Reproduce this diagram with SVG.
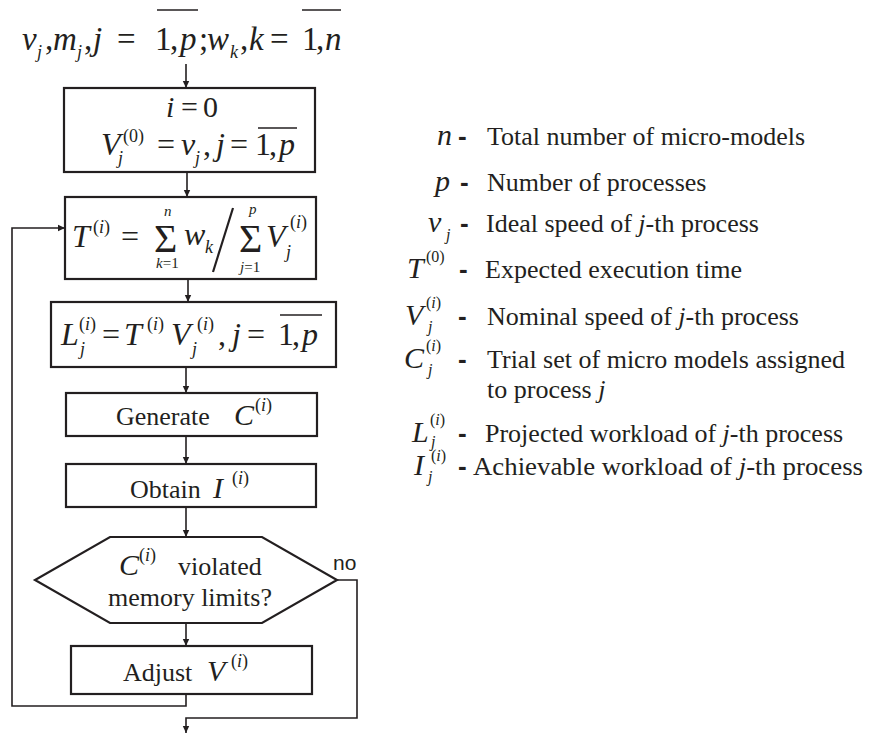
<svg xmlns="http://www.w3.org/2000/svg" width="869" height="733" viewBox="0 0 869 733">
<style>
text{font-family:"Liberation Serif","Times New Roman",serif;fill:#231f20}
.t{font-size:26px}
.i{font-style:italic}
.m{font-size:32px;font-style:italic}
.m33{font-size:33px;font-style:italic}
.u33{font-size:33px}
.m30{font-size:30px;font-style:italic}
.u32{font-size:32px}
.u30{font-size:30px}
.sp{font-size:18px}
.sb{font-size:18px;font-style:italic}
.lp{font-size:16px}
.lb{font-size:16px;font-style:italic}
.sm{font-size:15px}
.sig{font-size:40px}
.dash{font-family:"Liberation Sans",Arial,sans-serif;font-weight:bold;font-size:26px}
.no{font-family:"Liberation Sans",Arial,sans-serif;font-size:21px}
.box{fill:#fff;stroke:#231f20;stroke-width:2.2}
.ln{fill:none;stroke:#231f20;stroke-width:1.6}
.bar{stroke:#231f20;stroke-width:1.5}
</style>
<defs>
<marker id="ah" markerUnits="userSpaceOnUse" markerWidth="8" markerHeight="8" refX="7" refY="4" orient="auto">
<path d="M0,0.8 L7,4 L0,7.2 Z" fill="#231f20"/>
</marker>
</defs>

<g id="input">
<text y="50"><tspan class="m33" x="22">v</tspan><tspan class="sb" x="37" y="58">j</tspan><tspan class="u33" x="45" y="50">,</tspan><tspan class="m33" x="53">m</tspan><tspan class="sb" x="77" y="58">j</tspan><tspan class="u33" x="84" y="50">,</tspan><tspan class="m33" x="93">j</tspan><tspan class="u33" x="117">=</tspan><tspan class="u33" x="155">1</tspan><tspan class="u33" x="170">,</tspan><tspan class="m33" x="180">p</tspan><tspan class="u33" x="199">;</tspan><tspan class="m33" x="207">w</tspan><tspan class="sb" x="230" y="58">k</tspan><tspan class="u33" x="240" y="50">,</tspan><tspan class="m33" x="249">k</tspan><tspan class="u33" x="270">=</tspan><tspan class="u33" x="302">1</tspan><tspan class="u33" x="316">,</tspan><tspan class="m33" x="325">n</tspan></text>
<line class="bar" x1="157" y1="10" x2="198" y2="10"/>
<line class="bar" x1="302" y1="10" x2="341" y2="10"/>
</g>

<g id="init">
<rect class="box" x="64" y="88" width="251" height="84"/>
<text y="117"><tspan class="m30" x="166">i</tspan><tspan class="u30" x="181">=</tspan><tspan class="u30" x="203">0</tspan></text>
<text y="155"><tspan class="m" x="101">V</tspan><tspan class="sp" x="123" y="142">(0)</tspan><tspan class="sb" x="118" y="164">j</tspan><tspan class="u32" x="157" y="155">=</tspan><tspan class="m" x="181">v</tspan><tspan class="sb" x="195" y="164">j</tspan><tspan class="u32" x="203" y="155">,</tspan><tspan class="m" x="216">j</tspan><tspan class="u32" x="230">=</tspan><tspan class="u32" x="255">1</tspan><tspan class="u32" x="269">,</tspan><tspan class="m" x="279">p</tspan></text>
<line class="bar" x1="258" y1="128" x2="297" y2="128"/>
</g>

<g id="time">
<rect class="box" x="65" y="197" width="251" height="82"/>
<text y="247"><tspan class="m" x="72">T</tspan><tspan class="sp" x="93" y="233">(<tspan class="i">i</tspan>)</tspan><tspan class="u32" x="121" y="247">=</tspan></text>
<text class="sig" x="154" y="252">Σ</text>
<text class="sm i" x="164" y="216">n</text>
<text class="sm" x="156" y="268"><tspan class="i">k</tspan>=1</text>
<text y="245"><tspan class="m" x="184">w</tspan><tspan class="sb" x="205" y="253">k</tspan></text>
<line x1="213" y1="272" x2="233" y2="208" stroke="#231f20" stroke-width="2.2"/>
<text class="sig" x="239" y="252">Σ</text>
<text class="sm i" x="249" y="214">p</text>
<text class="sm" x="240" y="272"><tspan class="i">j</tspan>=1</text>
<text y="247"><tspan class="m" x="266">V</tspan><tspan class="sp" x="290" y="228">(<tspan class="i">i</tspan>)</tspan><tspan class="sb" x="286" y="258">j</tspan></text>
</g>

<g id="load">
<rect class="box" x="51" y="302" width="285" height="65"/>
<text y="345"><tspan class="m" x="61">L</tspan><tspan class="sp" x="79" y="330">(<tspan class="i">i</tspan>)</tspan><tspan class="sb" x="80" y="355">j</tspan><tspan class="u32" x="102" y="345">=</tspan><tspan class="m" x="124">T</tspan><tspan class="sp" x="147" y="330">(<tspan class="i">i</tspan>)</tspan><tspan class="m" x="171" y="345">V</tspan><tspan class="sp" x="197" y="330">(<tspan class="i">i</tspan>)</tspan><tspan class="sb" x="192" y="355">j</tspan><tspan class="u32" x="218" y="345">,</tspan><tspan class="m" x="232">j</tspan><tspan class="u32" x="247">=</tspan><tspan class="u32" x="278">1</tspan><tspan class="u32" x="292">,</tspan><tspan class="m" x="302">p</tspan></text>
<line class="bar" x1="280" y1="315" x2="322" y2="315"/>
</g>

<g id="generate">
<rect class="box" x="66" y="393" width="251" height="43"/>
<text y="425"><tspan class="t" x="116">Generate</tspan><tspan class="m30" x="234">C</tspan><tspan class="sp" x="255" y="411">(<tspan class="i">i</tspan>)</tspan></text>
</g>

<g id="obtain">
<rect class="box" x="66" y="464" width="250" height="43"/>
<text y="498"><tspan class="t" x="130">Obtain</tspan><tspan class="m30" x="213">I</tspan><tspan class="sp" x="232" y="484">(<tspan class="i">i</tspan>)</tspan></text>
</g>

<g id="check">
<polygon class="box" points="110,537 262,537 337,580 262,623 110,623 35,580"/>
<text y="575"><tspan class="m30" x="119">C</tspan><tspan class="sp" x="139" y="561">(<tspan class="i">i</tspan>)</tspan><tspan class="t" x="178" y="575">violated</tspan></text>
<text class="t" x="108" y="606">memory limits?</text>
</g>

<g id="adjust">
<rect class="box" x="71" y="646" width="241" height="48"/>
<text y="681"><tspan class="t" x="123">Adjust</tspan><tspan class="m30" x="207">V</tspan><tspan class="sp" x="231" y="667">(<tspan class="i">i</tspan>)</tspan></text>
</g>

<g id="connectors">
<line class="ln" x1="186" y1="64" x2="186" y2="88" marker-end="url(#ah)"/>
<line class="ln" x1="187" y1="172" x2="187" y2="197" marker-end="url(#ah)"/>
<line class="ln" x1="188" y1="279" x2="188" y2="302" marker-end="url(#ah)"/>
<line class="ln" x1="186" y1="367" x2="186" y2="393" marker-end="url(#ah)"/>
<line class="ln" x1="186" y1="436" x2="186" y2="464" marker-end="url(#ah)"/>
<line class="ln" x1="186" y1="507" x2="186" y2="537" marker-end="url(#ah)"/>
<line class="ln" x1="186" y1="623" x2="186" y2="646" marker-end="url(#ah)"/>
<polyline class="ln" points="186,694 186,706 12,706 12,228 65,228" marker-end="url(#ah)"/>
<polyline class="ln" points="337,580 357,580 357,718 186,718 186,733" marker-end="url(#ah)"/>
<text class="no" x="333" y="570">no</text>
</g>

<g id="legend">
<text class="m30" x="437" y="145">n</text><text class="dash" x="458" y="145">-</text><text class="t" x="487" y="145">Total number of micro-models</text>
<text class="m30" x="435" y="191">p</text><text class="dash" x="460" y="191">-</text><text class="t" x="487" y="191">Number of processes</text>
<text y="232"><tspan class="m30" x="428">v</tspan><tspan class="lb" x="446" y="240">j</tspan></text><text class="dash" x="460" y="232">-</text><text class="t" x="486" y="232">Ideal speed of <tspan class="i">j</tspan>-th process</text>
<text y="278"><tspan class="m30" x="407">T</tspan><tspan class="lp" x="426" y="262">(0)</tspan></text><text class="dash" x="459" y="278">-</text><text class="t" x="485" y="278">Expected execution time</text>
<text y="325"><tspan class="m30" x="405">V</tspan><tspan class="lp" x="426" y="308">(<tspan class="i">i</tspan>)</tspan><tspan class="lb" x="428" y="332">j</tspan></text><text class="dash" x="458" y="325">-</text><text class="t" x="487" y="325">Nominal speed of <tspan class="i">j</tspan>-th process</text>
<text y="368"><tspan class="m30" x="404">C</tspan><tspan class="lp" x="426" y="351">(<tspan class="i">i</tspan>)</tspan><tspan class="lb" x="428" y="375">j</tspan></text><text class="dash" x="458" y="368">-</text><text class="t" x="487" y="368">Trial set of micro models assigned</text>
<text class="t" x="487" y="398">to process <tspan class="i">j</tspan></text>
<text y="442"><tspan class="m30" x="412">L</tspan><tspan class="lp" x="430" y="425">(<tspan class="i">i</tspan>)</tspan><tspan class="lb" x="431" y="447">j</tspan></text><text class="dash" x="458" y="442">-</text><text class="t" x="485" y="442">Projected workload of <tspan class="i">j</tspan>-th process</text>
<text y="475"><tspan class="m30" x="414">I</tspan><tspan class="lp" x="431" y="461">(<tspan class="i">i</tspan>)</tspan><tspan class="lb" x="428" y="482">j</tspan></text><text class="dash" x="458" y="475">-</text><text class="t" x="473" y="475" textLength="390" lengthAdjust="spacingAndGlyphs">Achievable workload of <tspan class="i">j</tspan>-th process</text>
</g>
</svg>
